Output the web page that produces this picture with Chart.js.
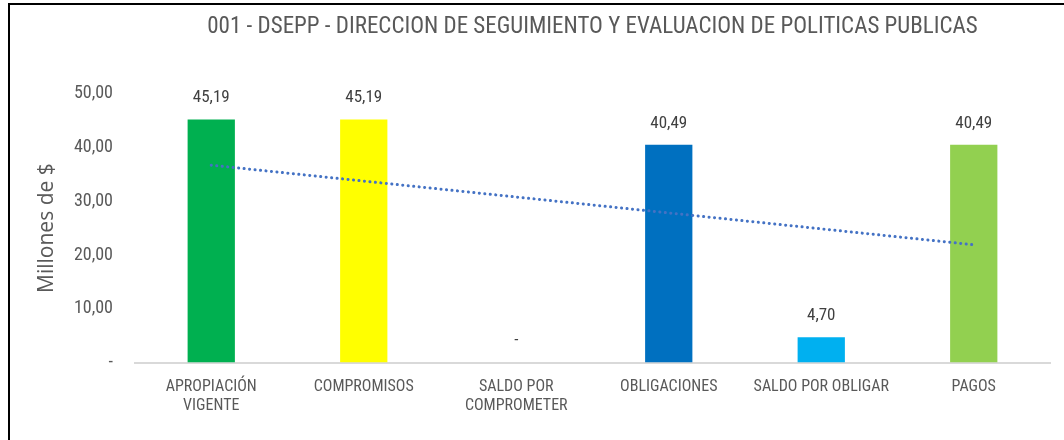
<!DOCTYPE html>
<html>
<head>
<meta charset="utf-8">
<script src="https://cdn.jsdelivr.net/npm/chart.js@4.4.1/dist/chart.umd.min.js"></script>
<style>
  html, body { margin: 0; padding: 0; background: #fff; }
  #wrap {
    position: absolute; left: 8px; top: 3px; width: 1056px; height: 437px;
    border-left: 2px solid #000; border-top: 2px solid #000; box-sizing: border-box;
  }
  #chart { display: block; }
</style>
</head>
<body>
<div id="wrap"><canvas id="chart" width="1054" height="435"></canvas></div>
<script>
// categories and values (millones de $)
var categories = [['APROPIACIÓN', 'VIGENTE'], 'COMPROMISOS', ['SALDO POR', 'COMPROMETER'], 'OBLIGACIONES', 'SALDO POR OBLIGAR', 'PAGOS'];
var values = [45.19, 45.19, 0, 40.49, 4.70, 40.49];
var barColors = ['#00B050', '#FFFF00', '#A5A5A5', '#0070C0', '#00B0F0', '#92D050'];
// linear trendline, end points
var trendValues = [36.7, null, null, null, null, 21.9];
var yTicks = [0, 10, 20, 30, 40, 50];

var narrow = "'Liberation Sans Narrow', 'Arial Narrow', 'Roboto Condensed', Roboto, sans-serif";

function fmt(v) {
    if (v === 0) return '-';
    return v.toFixed(2).replace('.', ',');
}

// draw the value above each bar
var valueLabels = {
    id: 'valueLabels',
    afterDatasetsDraw: function (chart) {
        var ctx = chart.ctx;
        var meta = chart.getDatasetMeta(0);
        ctx.save();
        ctx.fillStyle = '#404040';
        ctx.font = '17px ' + narrow;
        ctx.textAlign = 'center';
        ctx.textBaseline = 'bottom';
        meta.data.forEach(function (bar, i) {
            ctx.fillText(fmt(values[i]), bar.x, bar.y - 13);
        });
        ctx.restore();
    }
};

var ctx = document.getElementById('chart').getContext('2d');
var myChart = new Chart(ctx, {
    type: 'bar',
    data: {
        labels: categories,
        datasets: [{
            type: 'bar',
            data: values,
            backgroundColor: barColors,
            barPercentage: 0.31,
            categoryPercentage: 1,
            order: 2
        }, {
            type: 'line',
            data: trendValues,
            spanGaps: true,
            borderColor: '#4472C4',
            borderWidth: 3,
            borderDash: [0.1, 5.4],
            borderCapStyle: 'round',
            pointRadius: 0,
            fill: false,
            order: 1
        }]
    },
    options: {
        responsive: false,
        animation: false,
        layout: { padding: { left: 27, right: 14, top: 8, bottom: 9 } },
        plugins: {
            legend: { display: false },
            tooltip: { enabled: false },
            title: {
                display: true,
                fullSize: false,
                text: '001 - DSEPP - DIRECCION DE SEGUIMIENTO Y EVALUACION DE POLITICAS PUBLICAS',
                color: '#595959',
                font: { family: narrow, size: 23, weight: 'normal' },
                padding: { top: 0, bottom: 53 }
            }
        },
        scales: {
            x: {
                grid: { display: false, drawTicks: false },
                border: { color: '#D9D9D9', width: 2 },
                ticks: {
                    color: '#595959',
                    font: { family: narrow, size: 16 },
                    padding: 15,
                    maxRotation: 0,
                    autoSkip: false
                }
            },
            y: {
                min: 0,
                max: 50,
                afterBuildTicks: function (axis) {
                    axis.ticks = yTicks.map(function (v) { return { value: v }; });
                },
                afterFit: function (axis) {
                    axis.width = 98;
                },
                grid: { display: false, drawTicks: false },
                border: { display: false },
                ticks: {
                    color: '#595959',
                    font: { family: narrow, size: 18 },
                    padding: 22,
                    callback: function (v) { return fmt(v); }
                },
                title: {
                    display: true,
                    text: 'Millones de $',
                    color: '#595959',
                    font: { family: "'Open Sans', sans-serif", size: 21, lineHeight: 1 },
                    padding: { top: 0, bottom: 10 }
                }
            }
        }
    },
    plugins: [valueLabels]
});
</script>
</body>
</html>
